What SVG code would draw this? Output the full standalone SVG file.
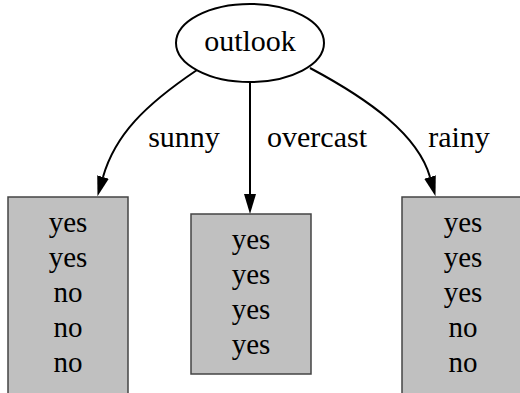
<svg xmlns="http://www.w3.org/2000/svg" width="520" height="393" viewBox="0 0 520 393">
<style>
text{font-family:"Liberation Serif","Times New Roman",serif;font-size:29px;fill:#000;text-anchor:middle}
.lbl{font-size:30px}
.box{fill:#c0c0c0;stroke:#444;stroke-width:1.5}
.edge{fill:none;stroke:#000;stroke-width:2}
</style>
<defs>
<marker id="ah" markerUnits="userSpaceOnUse" markerWidth="22" markerHeight="14" viewBox="0 -7 22 14" refX="0" refY="0" orient="auto">
<path d="M0,-6 L20,0 L0,6 z" fill="#000"/>
</marker>
</defs>
<rect width="520" height="393" fill="#fff"/>
<g id="connectors">
<path class="edge" d="M197,70 C145,105 115,135 103,177" marker-end="url(#ah)"/>
<path class="edge" d="M250,82 L250,194" marker-end="url(#ah)"/>
<path class="edge" d="M310,68 C370,100 418,135 430,177" marker-end="url(#ah)"/>
<text class="lbl" x="184" y="147">sunny</text>
<text class="lbl" x="317" y="147">overcast</text>
<text class="lbl" x="459" y="147">rainy</text>
</g>
<g id="outlook">
<ellipse cx="250" cy="43" rx="74" ry="39" fill="#fff" stroke="#000" stroke-width="2"/>
<text class="lbl" x="250" y="51">outlook</text>
</g>
<g id="sunny-leaf">
<rect class="box" x="8" y="197" width="120" height="210"/>
<text x="68" y="232">yes</text>
<text x="68" y="267">yes</text>
<text x="68" y="302">no</text>
<text x="68" y="337">no</text>
<text x="68" y="372">no</text>
</g>
<g id="overcast-leaf">
<rect class="box" x="191" y="214" width="120" height="160"/>
<text x="251" y="249">yes</text>
<text x="251" y="284">yes</text>
<text x="251" y="319">yes</text>
<text x="251" y="354">yes</text>
</g>
<g id="rainy-leaf">
<rect class="box" x="402" y="197" width="120" height="210"/>
<text x="463" y="232">yes</text>
<text x="463" y="267">yes</text>
<text x="463" y="302">yes</text>
<text x="463" y="337">no</text>
<text x="463" y="372">no</text>
</g>
</svg>
